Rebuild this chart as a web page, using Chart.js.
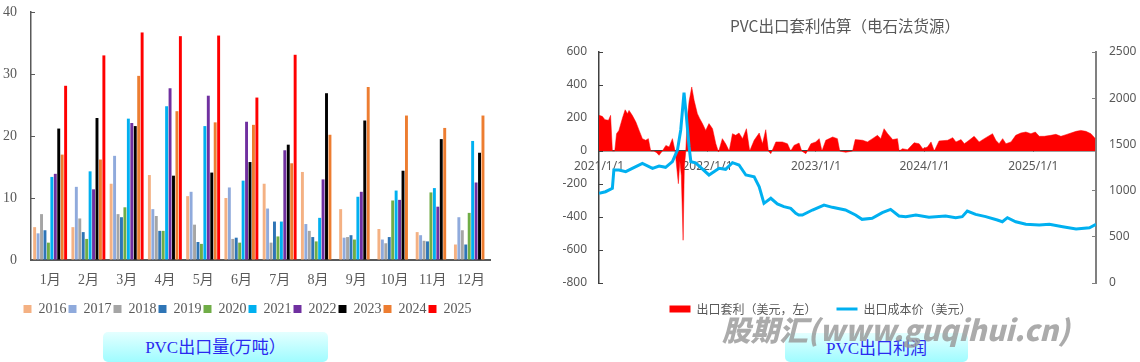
<!DOCTYPE html>
<html>
<head>
<meta charset="utf-8">
<script src="https://cdn.jsdelivr.net/npm/chart.js@4.4.1/dist/chart.umd.min.js"></script>
<style>
  body { margin: 0; width: 1140px; height: 362px; background: #fff; position: relative; overflow: hidden; }
  canvas { position: absolute; top: 0; }
  #volChart { left: 0; }
  #profitChart { left: 545px; }
  .tbox {
    position: absolute; border-radius: 5px; text-align: center;
    background: linear-gradient(#e4ffff, #9ffcff);
    color: #2a2af0; font-family: 'Liberation Serif', 'Noto Sans CJK SC', serif; font-size: 17px;
  }
  #rtitle {
    position: absolute; left: 700px; top: 14px; width: 290px; text-align: center;
    font-family: 'Noto Sans CJK SC', sans-serif; font-size: 15.5px; color: #595959;
  }
  #mark {
    position: absolute; left: 722px; top: 308px; white-space: nowrap;
    font-family: 'Noto Sans CJK SC', 'DejaVu Sans', sans-serif; font-weight: 900; font-style: italic;
    font-size: 28.6px; color: rgba(150, 150, 150, 0.8);
  }
</style>
</head>
<body>
<canvas id="volChart" width="497" height="326"></canvas>
<canvas id="profitChart" width="595" height="325"></canvas>
<div id="rtitle">PVC出口套利估算（电石法货源）</div>
<div class="tbox" style="left:103px;top:332px;width:225px;height:30px;line-height:31px;">PVC出口量(万吨）</div>
<div class="tbox" style="left:785px;top:333px;width:183px;height:29px;line-height:31px;">PVC出口利润</div>
<div id="mark">股期汇(www.guqihui.cn)</div>

<script>
// left chart: monthly export volume by year
const months = ['1月', '2月', '3月', '4月', '5月', '6月', '7月', '8月', '9月', '10月', '11月', '12月'];
const years = ['2016', '2017', '2018', '2019', '2020', '2021', '2022', '2023', '2024', '2025'];
const yearColors = ['#F4B183', '#8FAADC', '#A5A5A5', '#2E75B6', '#70AD47', '#00B0F0', '#7030A0', '#000000', '#ED7D31', '#FF0000'];

const v2016 = [5.3, 5.3, 12.3, 13.7, 10.3, 10.0, 12.3, 14.2, 8.2, 5.0, 4.5, 2.5];
const v2017 = [4.3, 11.8, 16.8, 8.2, 11.0, 11.7, 8.3, 5.8, 3.6, 3.3, 4.0, 6.9];
const v2018 = [7.4, 6.7, 7.4, 7.1, 5.7, 3.4, 2.8, 4.7, 3.7, 2.7, 3.1, 4.8];
const v2019 = [4.8, 4.5, 6.9, 4.7, 2.9, 3.6, 6.2, 3.7, 4.0, 3.7, 3.0, 2.5];
const v2020 = [2.8, 3.4, 8.5, 4.7, 2.6, 2.8, 3.8, 3.0, 3.3, 9.6, 10.9, 7.6];
const v2021 = [13.4, 14.3, 22.8, 24.8, 21.6, 12.8, 6.2, 6.8, 10.2, 11.2, 11.6, 19.2];
const v2022 = [13.9, 11.4, 22.1, 27.7, 26.5, 22.3, 17.7, 13.0, 11.0, 9.7, 8.6, 12.5];
const v2023 = [21.2, 22.9, 21.6, 13.6, 14.1, 15.8, 18.6, 26.9, 22.5, 14.4, 19.5, 17.3];
const v2024 = [17.0, 16.2, 29.7, 24.0, 22.2, 21.8, 15.6, 20.2, 27.9, 23.3, 21.3, 23.3];
const v2025 = [28.1, 33.0, 36.7, 36.1, 36.2, 26.2, 33.1, null, null, null, null, null];
const yearValues = [v2016, v2017, v2018, v2019, v2020, v2021, v2022, v2023, v2024, v2025];

// right chart: export arbitrage (left axis) and export cost (right axis)
const profitDates = [
  '2021-01-01', '2021-01-12', '2021-01-21', '2021-02-02', '2021-02-09', '2021-02-15', '2021-02-23', '2021-03-01',
  '2021-03-09', '2021-03-21', '2021-03-30', '2021-04-07', '2021-04-12', '2021-04-23', '2021-05-05', '2021-05-16',
  '2021-05-27', '2021-06-07', '2021-06-16', '2021-06-24', '2021-07-05', '2021-07-14', '2021-07-22', '2021-08-02',
  '2021-08-14', '2021-08-25', '2021-09-05', '2021-09-14', '2021-09-25', '2021-09-30', '2021-10-05', '2021-10-11',
  '2021-10-15', '2021-10-20', '2021-10-25', '2021-10-31', '2021-11-09', '2021-11-17', '2021-11-28', '2021-12-06',
  '2021-12-15', '2021-12-26', '2022-01-06', '2022-01-18', '2022-01-29', '2022-02-07', '2022-02-20', '2022-03-03',
  '2022-03-15', '2022-03-26', '2022-04-06', '2022-04-17', '2022-04-29', '2022-05-12', '2022-05-23', '2022-06-07',
  '2022-06-24', '2022-07-05', '2022-07-16', '2022-07-25', '2022-08-02', '2022-08-19', '2022-09-10', '2022-09-27',
  '2022-10-08', '2022-10-19', '2022-11-05', '2022-11-14', '2022-11-28', '2022-12-15', '2022-12-31', '2023-01-12',
  '2023-01-21', '2023-02-03', '2023-02-26', '2023-03-14', '2023-03-22', '2023-04-11', '2023-05-04', '2023-05-13',
  '2023-06-07', '2023-06-23', '2023-07-10', '2023-07-27', '2023-08-07', '2023-08-18', '2023-08-30', '2023-09-16',
  '2023-10-02', '2023-10-08', '2023-10-19', '2023-11-05', '2023-11-27', '2023-12-14', '2023-12-26', '2024-01-11',
  '2024-01-23', '2024-02-03', '2024-02-19', '2024-03-19', '2024-04-05', '2024-04-16', '2024-05-03', '2024-05-14',
  '2024-05-30', '2024-06-16', '2024-07-03', '2024-07-20', '2024-08-17', '2024-08-28', '2024-09-08', '2024-09-20',
  '2024-10-01', '2024-10-18', '2024-11-03', '2024-11-20', '2024-12-07', '2024-12-24', '2025-01-08', '2025-01-21',
  '2025-02-07', '2025-03-01', '2025-03-18', '2025-04-04', '2025-04-21', '2025-05-08', '2025-05-25', '2025-06-10',
  '2025-06-27', '2025-07-14', '2025-07-29'
];
const profitValues = [
  216, 210, 190, 186, 216, 0, 0, 105,
  125, 200, 250, 226, 246, 216, 176, 125,
  75, 65, 75, 0, 0, -10, -26, 0,
  34, 24, 75, 0, -198, -60, -150, -541,
  -100, 0, 200, 300, 388, 307, 226, 196,
  166, 125, 166, 135, 44, -6, 75, 44,
  0, 105, 95, 109, 75, 135, 0, 65,
  109, 44, 129, 0, -16, 55, 55, 44,
  0, 34, 48, 0, -16, 44, 55, 75,
  0, 65, 85, 75, 0, -8, 0, 69,
  65, 55, 75, 95, 75, 135, 105, 69,
  75, 0, 14, 8, 50, 44, 14, 24,
  55, 0, 61, 65, 81, 55, 69, 44,
  65, 89, 55, 75, 105, 65, 44, 75,
  44, 55, 95, 109, 115, 105, 115, 89,
  89, 95, 101, 89, 99, 109, 119, 125,
  119, 105, 75
];
const costDates = [
  '2021-01-01', '2021-01-23', '2021-02-15', '2021-02-20', '2021-03-09', '2021-04-01', '2021-04-23', '2021-05-27',
  '2021-06-30', '2021-07-22', '2021-08-13', '2021-09-05', '2021-09-22', '2021-10-03', '2021-10-14', '2021-10-22',
  '2021-10-31', '2021-11-06', '2021-11-22', '2021-12-06', '2022-01-06', '2022-02-09', '2022-03-03', '2022-03-26',
  '2022-04-17', '2022-05-10', '2022-06-07', '2022-06-24', '2022-07-10', '2022-08-02', '2022-08-24', '2022-09-15',
  '2022-10-08', '2022-10-25', '2022-11-04', '2022-11-16', '2022-12-20', '2023-01-28', '2023-02-25', '2023-04-10',
  '2023-05-14', '2023-06-05', '2023-07-09', '2023-08-12', '2023-09-09', '2023-10-07', '2023-10-30', '2023-12-03',
  '2024-01-16', '2024-03-12', '2024-04-15', '2024-05-07', '2024-05-24', '2024-06-21', '2024-07-25', '2024-09-02',
  '2024-09-19', '2024-10-06', '2024-11-03', '2024-12-07', '2025-01-21', '2025-02-24', '2025-04-10', '2025-05-25',
  '2025-07-09', '2025-07-31'
];
const costValues = [
  971, 988, 1025, 1223, 1223, 1205, 1241, 1295,
  1241, 1266, 1252, 1313, 1439, 1656, 2060, 1800,
  1475, 1313, 1300, 1259, 1169, 1241, 1230, 1302,
  1277, 1169, 1150, 1042, 862, 917, 855, 826,
  808, 754, 735, 736, 790, 844, 819, 790,
  736, 689, 700, 761, 797, 725, 718, 736,
  711, 725, 707, 718, 779, 743, 718, 682,
  663, 707, 663, 635, 628, 635, 609, 584,
  598, 635
];
const xTickLabels = ['2021/1/1', '2022/1/1', '2023/1/1', '2024/1/1', '2025/1/1'];
const xStart = '2021-01-01';
const xEnd = '2025-07-31';

const toDay = s => {
  const p = s.split(/[-\/]/).map(Number);
  return Date.UTC(p[0], p[1] - 1, p[2]) / 86400000;
};
const tickDays = xTickLabels.map(toDay);

const grayText = '#595959';
const rightFont = { family: "'Noto Sans', sans-serif", size: 12 };

// width of the widest right-axis label, used to keep mirrored labels outside the plot
const measure = document.createElement('canvas').getContext('2d');
measure.font = "12px 'Noto Sans', sans-serif";
const y1Widest = measure.measureText('2500').width;

// fixed axis width, and no extra vertical padding from tick label overflow
const fixWidth = w => s => { s.width = w; s.paddingTop = 0; s.paddingBottom = 0; };

// ---- left: grouped bars ----
new Chart(document.getElementById('volChart'), {
  type: 'bar',
  data: {
    labels: months,
    datasets: years.map((y, i) => ({
      label: y,
      data: yearValues[i],
      backgroundColor: yearColors[i],
      categoryPercentage: 0.9,
      barPercentage: 0.85
    }))
  },
  options: {
    responsive: false,
    animation: false,
    layout: { padding: { top: 12, right: 2, left: 0, bottom: 0 } },
    plugins: {
      tooltip: { enabled: false },
      legend: {
        position: 'bottom',
        labels: {
          boxWidth: 8, boxHeight: 8, padding: 2, color: grayText,
          font: { family: "'Liberation Serif', serif", size: 14 }
        }
      }
    },
    scales: {
      x: {
        grid: { display: false, drawTicks: false },
        border: { display: true, color: '#595959', width: 2 },
        ticks: { color: grayText, padding: 12, font: { family: "'Liberation Serif', 'Noto Sans CJK SC', serif", size: 14 } },
        afterFit: s => { s.height = 40; }
      },
      y: {
        min: 0, max: 40,
        grid: { drawOnChartArea: false, color: '#595959', tickLength: -4 },
        border: { color: '#595959', width: 1.5 },
        ticks: { stepSize: 10, color: grayText, padding: 18, font: { family: "'Liberation Serif', serif", size: 14 } },
        afterFit: fixWidth(31)
      }
    }
  }
});

// ---- right: arbitrage area + cost line ----
new Chart(document.getElementById('profitChart'), {
  type: 'line',
  data: {
    datasets: [
      {
        label: '出口成本价（美元）',
        data: costDates.map((d, i) => ({ x: toDay(d), y: costValues[i] })),
        yAxisID: 'y1',
        borderColor: '#00B0F0',
        borderWidth: 3,
        pointRadius: 0,
        fill: false,
        order: 0
      },
      {
        label: '出口套利（美元，左）',
        data: profitDates.map((d, i) => ({ x: toDay(d), y: profitValues[i] })),
        yAxisID: 'y',
        borderColor: '#FF0000',
        borderWidth: 0.5,
        backgroundColor: '#FF0000',
        pointRadius: 0,
        fill: 'origin',
        order: 1
      }
    ]
  },
  options: {
    responsive: false,
    animation: false,
    layout: { padding: { top: 52, right: 44, left: 0, bottom: 0 } },
    plugins: {
      tooltip: { enabled: false },
      legend: {
        position: 'bottom',
        labels: {
          usePointStyle: true, pointStyleWidth: 21, padding: 20, color: grayText,
          font: { family: "'Noto Sans CJK SC', sans-serif", size: 12 },
          generateLabels: () => [
            { text: '出口套利（美元，左）', pointStyle: 'line', strokeStyle: '#FF0000', fillStyle: '#FF0000', lineWidth: 7, datasetIndex: 1, fontColor: grayText },
            { text: '出口成本价（美元）', pointStyle: 'line', strokeStyle: '#00B0F0', fillStyle: '#00B0F0', lineWidth: 3, datasetIndex: 0, fontColor: grayText }
          ]
        }
      }
    },
    scales: {
      x: {
        type: 'linear',
        position: { y: 0 },
        min: toDay(xStart), max: toDay(xEnd),
        grid: { drawOnChartArea: false, color: '#404040', tickLength: -4 },
        border: { color: '#404040', width: 1.5 },
        afterBuildTicks: s => { s.ticks = tickDays.map(v => ({ value: v })); },
        ticks: {
          autoSkip: false, maxRotation: 0, padding: 12, color: grayText, font: rightFont,
          callback: v => xTickLabels[tickDays.indexOf(v)]
        }
      },
      y: {
        position: 'left',
        min: -800, max: 600,
        grid: { drawOnChartArea: false, color: '#404040', tickLength: -4 },
        border: { color: '#404040', width: 1.5 },
        ticks: { stepSize: 200, padding: 16, color: grayText, font: rightFont, callback: v => String(v) },
        afterFit: fixWidth(54)
      },
      y1: {
        position: 'right',
        min: 0, max: 2500,
        grid: { drawOnChartArea: false, color: '#808080', tickLength: -4 },
        border: { color: '#808080', width: 2 },
        // mirrored so the labels are not clipped by the zero-width axis box
        ticks: {
          stepSize: 500, mirror: true, crossAlign: 'far', padding: 13 + y1Widest,
          color: grayText, font: rightFont, callback: v => String(v)
        },
        afterFit: fixWidth(0)
      }
    }
  }
});
</script>
</body>
</html>
